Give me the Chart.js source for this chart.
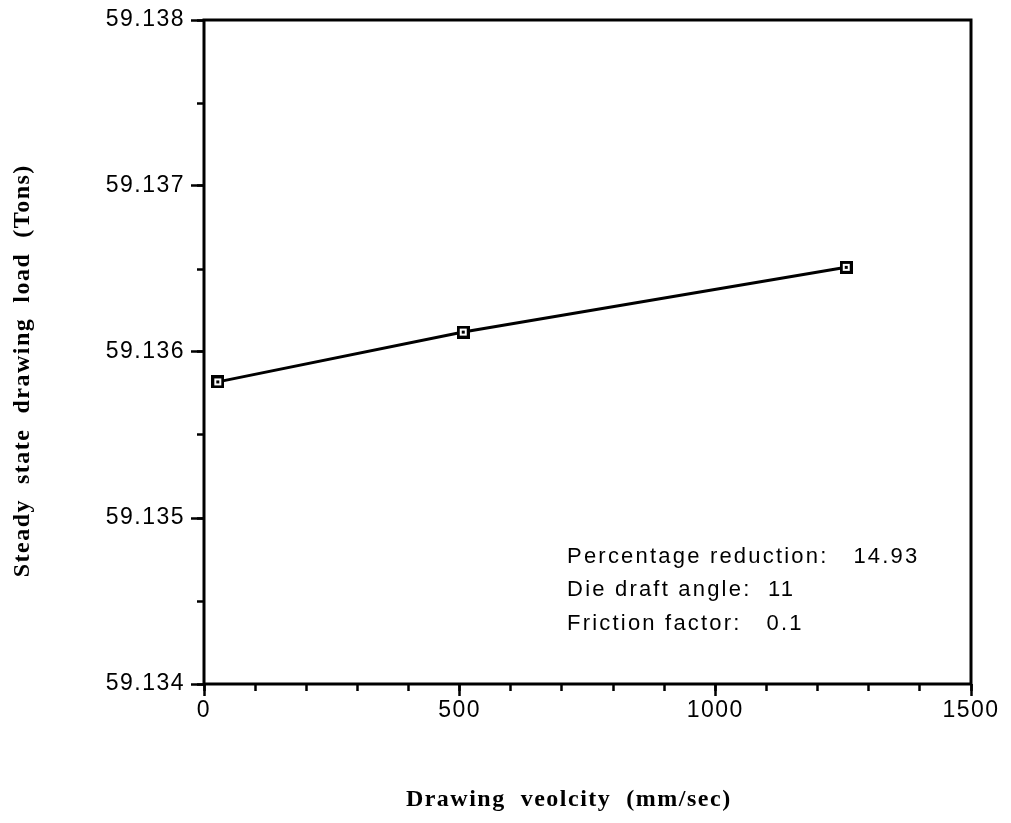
<!DOCTYPE html>
<html>
<head>
<meta charset="utf-8">
<title>Steady state drawing load vs drawing velocity</title>
<script src="https://cdn.jsdelivr.net/npm/chart.js@4.4.1/dist/chart.umd.min.js"></script>
<style>
  html, body { margin: 0; padding: 0; background: #fff; }
  #wrap { position: relative; width: 1011px; height: 823px; }
</style>
</head>
<body>
<div id="wrap"><canvas id="loadChart"></canvas></div>
<script>
/* ---- data ---- */
var velocity = [27, 507, 1256];                       // mm/sec
var drawingLoad = [59.13582, 59.13612, 59.13651];     // Tons

var xMajorTicks = [0, 500, 1000, 1500];
var yMajorTicks = [59.134, 59.135, 59.136, 59.137, 59.138];

var noteLabels = ['Percentage reduction:', 'Die draft angle:', 'Friction factor:'];
var noteValues = ['14.93', '11', '0.1'];
var noteGaps = ['   ', '  ', '   '];

/* ---- styling ---- */
var SANS = '"Liberation Sans", Arial, Helvetica, sans-serif';
var SERIF = '"Liberation Serif", "Times New Roman", serif';
var INK = '#000';

// open square marker with a dot in the middle
function makeMarker() {
  var c = document.createElement('canvas');
  c.width = 13; c.height = 13;
  var g = c.getContext('2d');
  g.fillStyle = INK; g.fillRect(0, 0, 13, 13);
  g.fillStyle = '#fff'; g.fillRect(3, 3, 7, 7);
  g.fillStyle = INK; g.fillRect(5, 5, 3, 3);
  return c;
}

// wider tracking, like the old laser-printed fonts
var spacingPlugin = {
  id: 'spacing',
  beforeDraw: function (chart) { chart.ctx.letterSpacing = '1.5px'; }
};

// box around the plot area
var framePlugin = {
  id: 'frame',
  afterDraw: function (chart) {
    var a = chart.chartArea, ctx = chart.ctx;
    ctx.save();
    ctx.strokeStyle = INK;
    ctx.lineWidth = 3;
    ctx.strokeRect(a.left, a.top, a.right - a.left, a.bottom - a.top);
    ctx.restore();
  }
};

// parameter notes in the lower right of the plot
var notesPlugin = {
  id: 'notes',
  afterDraw: function (chart) {
    var xs = chart.scales.x, ys = chart.scales.y, ctx = chart.ctx;
    var x0 = xs.getPixelForValue(710);
    var y0 = ys.getPixelForValue(59.134766);
    ctx.save();
    ctx.letterSpacing = '2.2px';
    ctx.font = '22px ' + SANS;
    ctx.fillStyle = INK;
    ctx.textAlign = 'left';
    ctx.textBaseline = 'middle';
    for (var i = 0; i < noteLabels.length; i++) {
      ctx.fillText(noteLabels[i] + noteGaps[i] + noteValues[i], x0, y0 + i * 33.5);
    }
    ctx.restore();
  }
};

var tickFont = { family: SANS, size: 23 };
var titleFont = { family: SERIF, size: 24, weight: 'bold' };

var config = {
  type: 'line',
  data: {
    datasets: [{
      data: velocity.map(function (v, i) { return { x: v, y: drawingLoad[i] }; }),
      borderColor: INK,
      borderWidth: 3,
      tension: 0,
      fill: false,
      pointStyle: makeMarker(),
      pointRadius: 6,
      clip: false
    }]
  },
  options: {
    responsive: true,
    maintainAspectRatio: false,
    animation: false,
    layout: { padding: { top: 20, right: 40, bottom: 0, left: 0 } },
    plugins: {
      legend: { display: false },
      tooltip: { enabled: false }
    },
    scales: {
      xMinor: {
        type: 'linear', position: 'bottom', weight: 0,
        min: 0, max: 1500,
        ticks: { stepSize: 100, display: false },
        grid: { drawOnChartArea: false, tickLength: 7, tickWidth: 2.5, tickColor: INK },
        border: { display: false },
        afterFit: function (s) { s.height = 0; }
      },
      x: {
        type: 'linear', position: 'bottom', weight: 1,
        min: 0, max: 1500,
        afterBuildTicks: function (s) {
          s.ticks = xMajorTicks.map(function (v) { return { value: v }; });
        },
        ticks: { color: INK, font: tickFont, padding: 1, maxRotation: 0,
                 callback: function (v) { return String(v); } },
        grid: { drawOnChartArea: false, tickLength: 12, tickWidth: 2.5, tickColor: INK },
        border: { display: false },
        title: { display: true, text: 'Drawing  veolcity  (mm/sec)     ', color: INK,
                 font: titleFont, padding: { top: 0, bottom: 9 } },
        afterFit: function (s) { s.height = 139; }
      },
      yMinor: {
        type: 'linear', position: 'left', weight: 0,
        min: 59.134, max: 59.138,
        ticks: { stepSize: 0.0005, display: false },
        grid: { drawOnChartArea: false, tickLength: 7, tickWidth: 2.5, tickColor: INK },
        border: { display: false },
        afterFit: function (s) { s.width = 0; }
      },
      y: {
        type: 'linear', position: 'left', weight: 1,
        min: 59.134, max: 59.138,
        afterBuildTicks: function (s) {
          s.ticks = yMajorTicks.map(function (v) { return { value: v }; });
        },
        ticks: { color: INK, font: tickFont, padding: 6,
                 callback: function (v) { return Number(v).toFixed(3); } },
        grid: { drawOnChartArea: false, tickLength: 13, tickWidth: 2.5, tickColor: INK },
        border: { display: false },
        title: { display: true, text: 'Steady  state  drawing  load  (Tons)     ', color: INK,
                 font: titleFont, padding: { top: 8, bottom: 0 } },
        afterFit: function (s) { s.width = 204; }
      }
    }
  },
  plugins: [spacingPlugin, framePlugin, notesPlugin]
};

new Chart(document.getElementById('loadChart').getContext('2d'), config);
</script>
</body>
</html>
